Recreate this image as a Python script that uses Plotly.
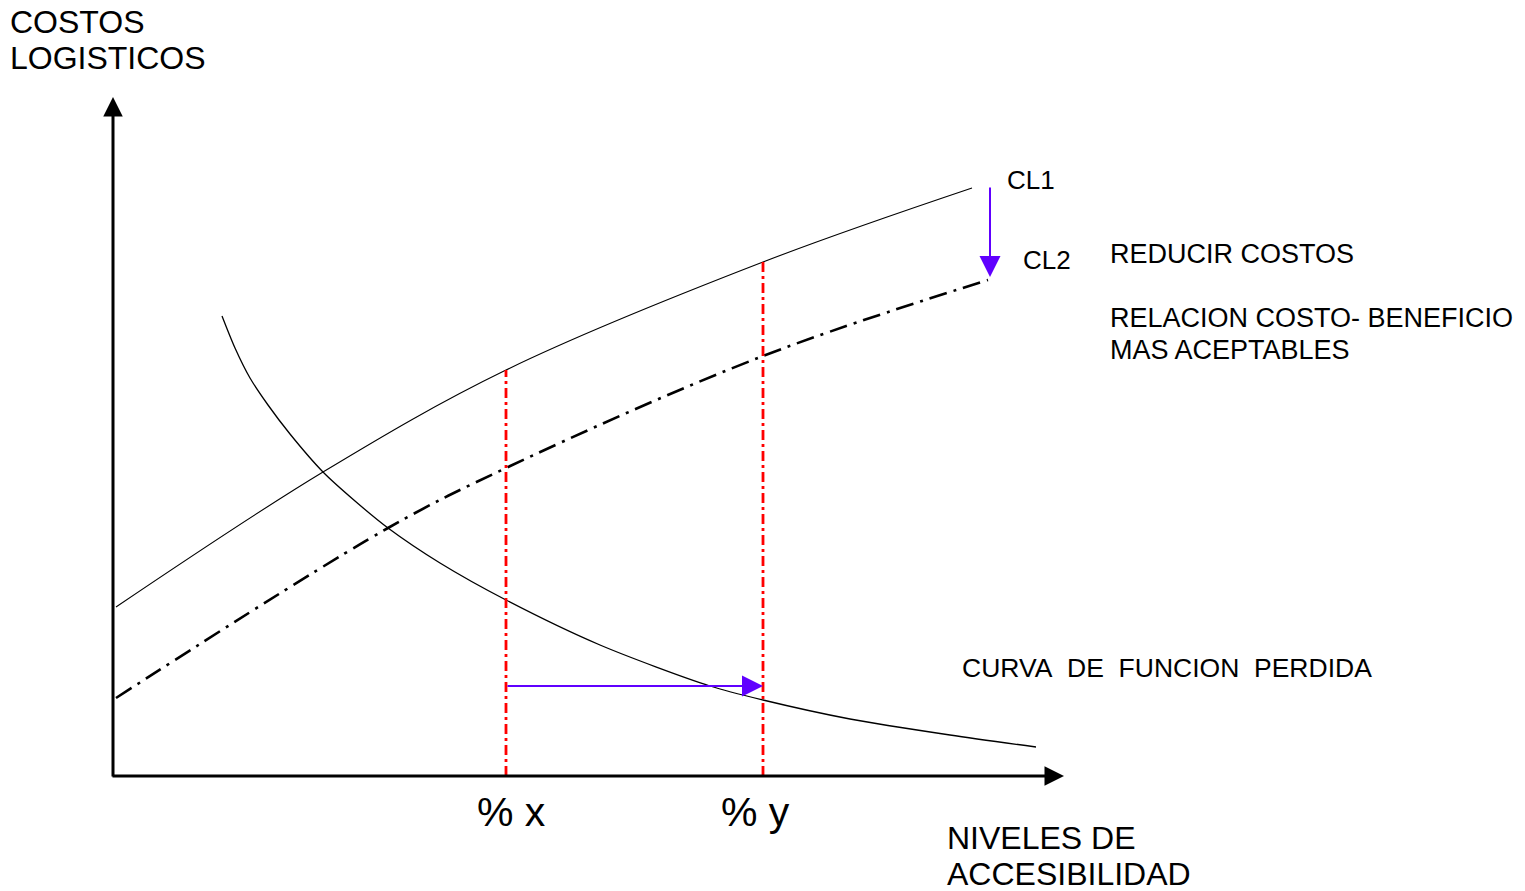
import plotly.graph_objects as go

# ---- data (in page-pixel units) ----
cl1_x = [116, 323, 506, 763, 972]
cl1_y = [607, 472, 370, 262, 188]

cl2_x = [116, 388, 506, 763, 988]
cl2_y = [698, 528, 468, 356, 280]

loss_x = [222, 235, 250, 268, 290, 323, 355, 388, 440, 506, 600, 710, 763, 850, 950, 1036]
loss_y = [316, 348, 378, 405, 434, 472, 501, 528, 563, 600, 645, 686, 700, 719, 735, 747]

pct_x = [506, 763]              # % x , % y
pct_top = [370, 262]
pct_labels = ["% x", "% y"]
pct_label_x = [478, 722]
base_y = 776

W, H = 1525, 891

fig = go.Figure()

fig.add_trace(go.Scatter(x=cl1_x, y=cl1_y, mode="lines", line=dict(color="black", width=1.1, shape="spline", smoothing=1.0), hoverinfo="skip"))
fig.add_trace(go.Scatter(x=cl2_x, y=cl2_y, mode="lines", line=dict(color="black", width=2.6, dash="18px,7px,3px,7px", shape="spline", smoothing=1.0), hoverinfo="skip"))
fig.add_trace(go.Scatter(x=loss_x, y=loss_y, mode="lines", line=dict(color="black", width=1.3, shape="spline", smoothing=0.8), hoverinfo="skip"))

for px, pt in zip(pct_x, pct_top):
    fig.add_trace(go.Scatter(x=[px, px], y=[base_y, pt], mode="lines",
                             line=dict(color="#ff0000", width=2.8, dash="10px,4px,3px,4px"), hoverinfo="skip"))

annos = []
# axes arrows
annos.append(dict(x=113, y=97, ax=113, ay=778, xref="x", yref="y", axref="x", ayref="y",
                  showarrow=True, arrowhead=2, arrowsize=1.3, arrowwidth=3, arrowcolor="black", standoff=0, text=""))
annos.append(dict(x=1064, y=776, ax=111, ay=776, xref="x", yref="y", axref="x", ayref="y",
                  showarrow=True, arrowhead=2, arrowsize=1.3, arrowwidth=3, arrowcolor="black", standoff=0, text=""))
# purple arrows
annos.append(dict(x=990, y=277, ax=990, ay=186, xref="x", yref="y", axref="x", ayref="y",
                  showarrow=True, arrowhead=2, arrowsize=2.1, arrowwidth=2, arrowcolor="#6000ff", standoff=0, text=""))
annos.append(dict(x=763, y=686, ax=506, ay=686, xref="x", yref="y", axref="x", ayref="y",
                  showarrow=True, arrowhead=2, arrowsize=2.1, arrowwidth=2, arrowcolor="#6000ff", standoff=0, text=""))

font_family = "Liberation Sans, Arial, sans-serif"

def txt(s, x, y, size):
    annos.append(dict(text=s, x=x, y=y, xref="x", yref="y", showarrow=False,
                      xanchor="left", yanchor="middle", font=dict(family=font_family, size=size, color="black")))

txt("COSTOS", 8, 22, 32)
txt("LOGISTICOS", 8, 58, 32)
txt("NIVELES DE", 945, 838, 32)
txt("ACCESIBILIDAD", 945, 874, 32)
txt("CL1", 1005, 180, 26)
txt("CL2", 1021, 260, 26)
txt("REDUCIR COSTOS", 1108, 254, 27)
txt("RELACION COSTO- BENEFICIO", 1108, 318, 27)
txt("MAS ACEPTABLES", 1108, 350, 27)
txt("CURVA\u00a0\u00a0DE\u00a0\u00a0FUNCION\u00a0\u00a0PERDIDA", 960, 668, 26.5)
for lab, lx in zip(pct_labels, pct_label_x):
    txt(lab, lx - 3, 812, 41)

fig.update_layout(
    width=W, height=H,
    margin=dict(l=0, r=0, t=0, b=0),
    paper_bgcolor="white", plot_bgcolor="white",
    showlegend=False,
    hovermode=False,
    xaxis=dict(range=[0, W], visible=False, fixedrange=True),
    yaxis=dict(range=[H, 0], visible=False, fixedrange=True),
    annotations=annos,
)

fig.write_html("out.html", config={"displayModeBar": False, "staticPlot": True},
               post_script="document.body.style.margin='0';document.body.style.overflow='hidden';")
